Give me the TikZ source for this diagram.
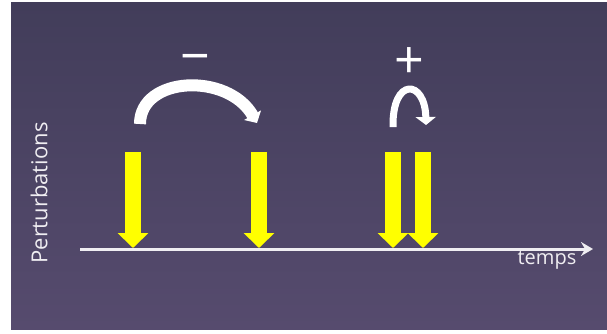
\documentclass[tikz,border=0pt]{standalone}
\usepackage{fontspec}
\setsansfont{Open Sans}
\usetikzlibrary{arrows.meta}
\definecolor{slideTop}{HTML}{423D5A}
\definecolor{slideBottom}{HTML}{564B6E}
\definecolor{chalk}{HTML}{F0EEF2}
\definecolor{pulse}{HTML}{FFFF00}
\tikzset{
    slide/.style={top color=slideTop, bottom color=slideBottom, draw=none},
    timeline/.style={chalk, line width=3pt, -{Stealth[length=12pt,width=14pt,inset=4pt]}},
    perturb/.style={pulse, line width=16pt, -{Triangle[length=15pt,width=30pt]}},
    big jump/.style={white, line width=12pt, -{Triangle[length=9pt,width=19pt]}},
    small hop/.style={white, line width=7pt, -{Triangle[length=8pt,width=20pt]}},
    sign/.style={font=\sffamily\fontsize{52}{52}\selectfont, text=white, inner sep=0pt},
    axis label/.style={font=\sffamily\fontsize{22}{24}\selectfont, text=chalk, inner sep=0pt},
}

\begin{document}
\begin{tikzpicture}[x=1pt, y=-1pt]

\useasboundingbox (0,0) rectangle (607,333);
\fill[slide] (11,2) rectangle (607,329);

% ---------------------------------------------------------------------------
% Perturbations
% ---------------------------------------------------------------------------
\coordinate (p1top) at (133,152);
\coordinate (p2top) at (259,152);
\coordinate (p3top) at (393,152);
\coordinate (p4top) at (423,152);
\coordinate (p1) at (133,248);
\coordinate (p2) at (259,248);
\coordinate (p3) at (393,248);
\coordinate (p4) at (423,248);

\draw[perturb] (p1top) -- (p1);
\draw[perturb] (p2top) -- (p2);
\draw[perturb] (p3top) -- (p3);
\draw[perturb] (p4top) -- (p4);

% ---------------------------------------------------------------------------
% Time axis
% ---------------------------------------------------------------------------
\coordinate (t0) at (80,249);
\coordinate (tEnd) at (593,249);
\draw[timeline] (t0) -- (tEnd);
\node[axis label, font=\sffamily\fontsize{20}{22}\selectfont] (timeLabel) at (547,260) {temps};
\node[axis label, rotate=90] (perturbLabel) at (39,193) {Perturbations};

% ---------------------------------------------------------------------------
% Jumps between perturbations
% ---------------------------------------------------------------------------
\coordinate (jumpStart) at (140,124);
\coordinate (jumpEnd) at (257,123);
\draw[big jump] (jumpStart) .. controls (140,76) and (228,72) .. (jumpEnd);
\node[sign, anchor=base] (minusSign) at (195,74) {−};

\coordinate (hopStart) at (393,127);
\coordinate (hopEnd) at (426,125);
\draw[small hop] (hopStart) .. controls (392,77) and (425,79) .. (hopEnd);
\node[sign, anchor=base] (plusSign) at (409,78) {+};

\end{tikzpicture}
\end{document}
